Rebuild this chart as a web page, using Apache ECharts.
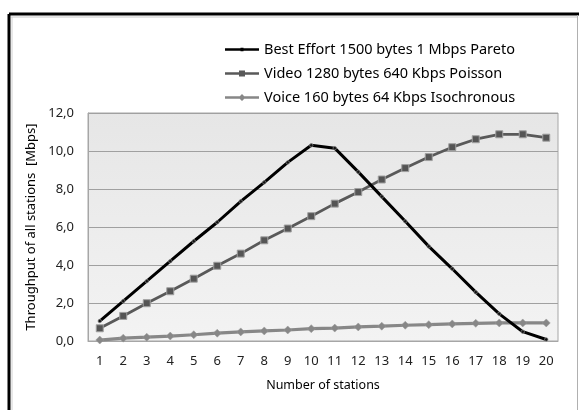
<!DOCTYPE html>
<html>
<head>
<meta charset="utf-8">
<script src="https://cdn.jsdelivr.net/npm/echarts@6/dist/echarts.min.js"></script>
<style>
  html, body { margin: 0; padding: 0; background: #fff; }
  #chart { width: 579px; height: 410px; }
</style>
</head>
<body>
<div id="chart"></div>
<script>
// number of stations
const stations = ['1', '2', '3', '4', '5', '6', '7', '8', '9', '10',
  '11', '12', '13', '14', '15', '16', '17', '18', '19', '20'];

const bestEffort = [1.05, 2.1, 3.15, 4.2, 5.25, 6.25, 7.35, 8.35, 9.4, 10.3,
  10.15, 8.9, 7.6, 6.3, 4.98, 3.8, 2.57, 1.43, 0.49, 0.08];
const video = [0.67, 1.32, 1.99, 2.62, 3.28, 3.96, 4.6, 5.3, 5.92, 6.57,
  7.23, 7.84, 8.5, 9.1, 9.68, 10.2, 10.62, 10.88, 10.88, 10.7];
const voice = [0.05, 0.15, 0.2, 0.26, 0.33, 0.41, 0.48, 0.53, 0.58, 0.65,
  0.68, 0.74, 0.78, 0.83, 0.86, 0.9, 0.93, 0.95, 0.95, 0.95];

const seriesNames = [
  'Best Effort 1500 bytes 1 Mbps Pareto',
  'Video 1280 bytes 640 Kbps Poisson',
  'Voice 160 bytes 64 Kbps Isochronous'
];
const lineColors = ['#000000', '#595959', '#878787'];

const font = '"Noto Sans", sans-serif';
const plot = { left: 88, top: 113, width: 470, height: 228 };

// legend icons: line with the marker in the middle
const legendIcons = [
  'path://M0,2.7h34v2.6H0z M15.5,2.2h3v3.6h-3z',
  'path://M0,2.8h34v2.4H0z M14,1h6v6h-6z',
  'path://M0,2.7h34v2.6H0z M17,0.5l3.5,3.5l-3.5,3.5l-3.5,-3.5z'
];

let myChart = echarts.init(document.getElementById('chart'), null, { renderer: 'canvas' });

let option = {
  backgroundColor: '#ffffff',
  animation: false,
  textStyle: { fontFamily: font },
  graphic: [
    // frame round the chart
    { type: 'line', shape: { x1: 9, y1: 14, x2: 579, y2: 14 }, style: { stroke: '#000', lineWidth: 3 } },
    { type: 'line', shape: { x1: 9, y1: 14, x2: 9, y2: 410 }, style: { stroke: '#000', lineWidth: 3 } },
    { type: 'line', shape: { x1: 11, y1: 17, x2: 577, y2: 17 }, style: { stroke: '#c8c8c8', lineWidth: 1 } },
    { type: 'line', shape: { x1: 12, y1: 17, x2: 12, y2: 410 }, style: { stroke: '#d0d0d0', lineWidth: 1 } },
    { type: 'line', shape: { x1: 577.5, y1: 15, x2: 577.5, y2: 410 }, style: { stroke: '#b0b0b0', lineWidth: 1 } },
    // plot area background
    {
      type: 'rect', z: -1,
      shape: { x: plot.left, y: plot.top, width: plot.width, height: plot.height },
      style: {
        fill: new echarts.graphic.LinearGradient(0, 0, 0, 1, [
          { offset: 0, color: '#e6e6e6' },
          { offset: 1, color: '#f3f3f3' }
        ]),
        stroke: '#a6a6a6', lineWidth: 1
      }
    }
  ],
  legend: {
    orient: 'vertical',
    left: 220,
    top: 37,
    itemGap: 9,
    itemWidth: 34,
    itemHeight: 8,
    textStyle: { fontFamily: font, fontSize: 14.5, color: '#000' },
    data: seriesNames.map((n, i) => ({
      name: n,
      icon: legendIcons[i],
      itemStyle: { color: lineColors[i], borderWidth: 0 }
    }))
  },
  grid: { left: plot.left, top: plot.top, width: plot.width, height: plot.height, containLabel: false },
  xAxis: {
    type: 'category',
    data: stations,
    boundaryGap: true,
    name: 'Number of stations',
    nameLocation: 'middle',
    nameGap: 38,
    nameTextStyle: { fontFamily: font, fontSize: 12.5, color: '#000' },
    axisLine: { lineStyle: { color: '#a6a6a6' } },
    axisTick: { show: false },
    axisLabel: { fontFamily: font, fontSize: 13, color: '#222', margin: 14, interval: 0 }
  },
  yAxis: {
    type: 'value',
    min: 0, max: 12, interval: 2,
    name: 'Throughput of all stations  [Mbps]',
    nameLocation: 'middle',
    nameGap: 47,
    nameRotate: 90,
    nameTextStyle: { fontFamily: font, fontSize: 13, color: '#000' },
    axisLine: { show: true, lineStyle: { color: '#a6a6a6' } },
    axisTick: { show: false },
    splitLine: { lineStyle: { color: '#a0a0a0', width: 1 } },
    axisLabel: {
      fontFamily: font, fontSize: 13, color: '#222', margin: 14,
      formatter: v => v.toFixed(1).replace('.', ',')
    }
  },
  series: [
    {
      name: seriesNames[0], type: 'line', data: bestEffort,
      symbol: 'circle', symbolSize: 3.5,
      lineStyle: { color: lineColors[0], width: 3 },
      itemStyle: { color: '#111', borderColor: '#888', borderWidth: 0.7 },
      z: 4
    },
    {
      name: seriesNames[1], type: 'line', data: video,
      symbol: 'rect', symbolSize: 7,
      lineStyle: { color: lineColors[1], width: 2.8 },
      itemStyle: { color: '#555', borderColor: '#a0a0a0', borderWidth: 1 },
      z: 3
    },
    {
      name: seriesNames[2], type: 'line', data: voice,
      symbol: 'diamond', symbolSize: 8,
      lineStyle: { color: lineColors[2], width: 3.2 },
      itemStyle: { color: '#878787', borderColor: '#9a9a9a', borderWidth: 0.5 },
      z: 2
    }
  ]
};
option && myChart.setOption(option);
</script>
</body>
</html>
